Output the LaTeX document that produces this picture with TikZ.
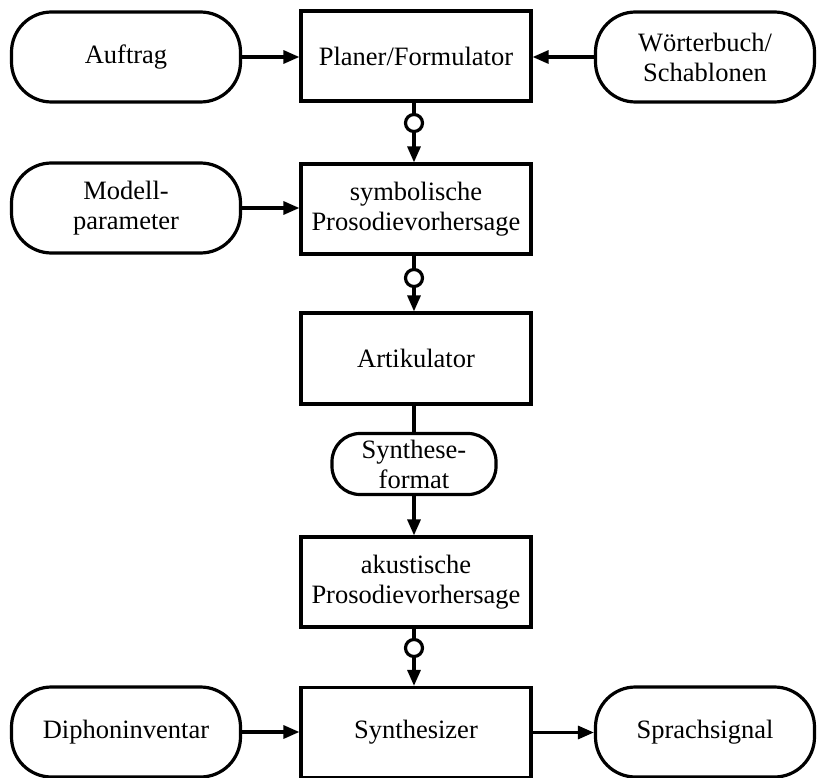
\documentclass[tikz,border=0pt]{standalone}
\usepackage{fontspec}
\setmainfont{Liberation Serif}
\usetikzlibrary{arrows.meta}
\begin{document}
\begin{tikzpicture}[x=1pt,y=-1pt,
  every node/.style={font=\fontsize{26.5}{30}\selectfont, align=center, inner sep=0pt},
  proc/.style={draw, line width=3.2pt, rectangle, minimum width=230pt, minimum height=90pt},
  term/.style={draw, line width=3.2pt, rectangle, rounded corners=40pt, minimum width=229pt, minimum height=90pt},
  small/.style={draw, line width=3.2pt, rectangle, rounded corners=28pt, minimum width=164pt, minimum height=61pt},
  conn/.style={line width=3.2pt, -{Triangle[length=16pt,width=13pt]}},
  plain/.style={line width=3.2pt},
  dot/.style={draw, line width=3.2pt, circle, fill=white, minimum size=17pt}
]
\useasboundingbox (0,0) rectangle (817,778);
\node[term] (auftrag) at (126,57) {Auftrag};
\node[proc] (planer) at (416,56) {Planer/Formulator};
\node[term, minimum width=219pt] (woerter) at (705,57) {Wörterbuch/\\Schablonen};
\node[term] (modell) at (126,208) {Modell-\\parameter};
\node[proc] (symb) at (416,209) {symbolische\\Prosodievorhersage};
\node[proc, minimum height=91pt] (artik) at (416,358.5) {Artikulator};
\node[small] (synform) at (414,464) {Synthese-\\format};
\node[proc] (akust) at (416,582) {akustische\\Prosodievorhersage};
\node[term] (diphon) at (126,732) {Diphoninventar};
\node[proc] (synth) at (416,732.5) {Synthesizer};
\node[term, minimum width=219pt] (sprach) at (705,732) {Sprachsignal};
% dots
\node[dot] (d1) at (414,123) {};
\node[dot] (d2) at (414,278) {};
\node[dot] (d3) at (414,648) {};
% connectors
\draw[conn] (auftrag.east) -- (planer.west |- auftrag.east);
\draw[conn] (woerter.west) -- (planer.east |- woerter.west);
\draw[conn] (modell.east) -- (symb.west |- modell.east);
\draw[plain] (planer.south -| d1) -- (d1.north);
\draw[conn] (d1.south) -- (symb.north -| d1);
\draw[plain] (symb.south -| d2) -- (d2.north);
\draw[conn] (d2.south) -- (artik.north -| d2);
\draw[plain] (artik.south -| synform) -- (synform.north);
\draw[conn] (synform.south) -- (akust.north -| synform);
\draw[plain] (akust.south -| d3) -- (d3.north);
\draw[conn] (d3.south) -- (synth.north -| d3);
\draw[conn] (diphon.east) -- (synth.west |- diphon.east);
\draw[conn] (synth.east) -- (sprach.west |- synth.east);
\end{tikzpicture}
\end{document}
